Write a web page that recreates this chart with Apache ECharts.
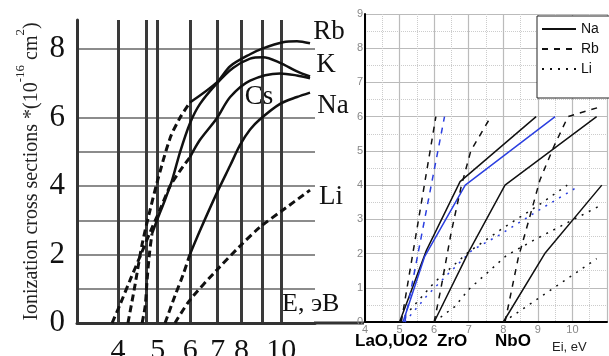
<!DOCTYPE html>
<html>
<head>
<meta charset="utf-8">
<script src="https://cdn.jsdelivr.net/npm/echarts@6/dist/echarts.min.js"></script>
<style>
html,body{margin:0;padding:0;background:#fff}
#chart{width:609px;height:356px}
</style>
</head>
<body>
<div id="chart"></div>
<script>
// ---- left panel: cross section vs E (log energy axis), [E, sigma]
var leftTicks = [4, 5, 6, 7, 8, 10];
var leftGridE = [4, 4.7, 5, 6, 7, 8, 9, 10];
var sigmaTicks = [0, 2, 4, 6, 8];
var sigmaGrid = [1, 2, 3, 4, 5, 6, 8];

var csDash = [[3.87,0],[4.05,0.55],[4.28,1.25],[4.53,1.95],[4.79,2.65],[5.06,3.3],[5.36,4.0],[5.67,4.45],[5.99,4.84]];
var csSolid = [[5.99,4.84],[6.34,5.35],[6.97,5.98],[7.51,6.6],[8.40,7.08],[9.94,7.29],[10.93,7.23],[11.76,7.15]];
var rbDash = [[4.23,0],[4.40,1.1],[4.58,2.3],[4.79,3.3],[4.98,4.1],[5.36,5.4],[5.67,6.0],[5.99,6.44]];
var rbSolid = [[5.99,6.44],[6.97,7.03],[7.51,7.5],[8.40,7.85],[9.03,8.02],[10.10,8.2],[10.93,8.23],[11.76,8.17]];
var kDash = [[4.58,0],[4.66,0.5],[4.71,1.25],[4.77,2.0],[4.84,2.6]];
var kSolid = [[4.84,2.6],[4.98,3.0],[5.21,3.6],[5.42,4.17],[5.67,5.0],[5.99,5.83],[6.34,6.4],[6.97,7.0],[7.63,7.45],[8.40,7.72],[9.03,7.76],[9.94,7.6],[10.93,7.35],[11.76,7.2]];
var naDash = [[5.21,0],[5.51,0.8],[5.76,1.4],[5.99,2.0]];
var naSolid = [[5.99,2.0],[6.34,2.7],[6.97,3.8],[7.51,4.6],[7.94,5.2],[8.40,5.65],[8.88,5.95],[9.94,6.4],[10.93,6.6],[11.76,6.73]];
var liDash = [[5.51,0],[5.99,0.67],[6.97,1.55],[7.94,2.25],[8.88,2.8],[10.10,3.3],[11.76,3.88]];

// ---- right panel: [Ei, value]
var rightXTicks = [4, 5, 6, 7, 8, 9, 10];
var naLaO = [[5.0,0],[5.78,2.1],[6.75,4.1],[8.95,6.0]];
var naUO2 = [[5.1,0],[5.72,1.9],[6.9,4.0],[9.5,6.0]];
var naZrO = [[6.0,0],[7.0,2.05],[8.05,4.0],[10.7,6.0]];
var naNbO = [[8.0,0],[9.2,2.0],[10.85,4.0]];
var rbLaO = [[5.05,0],[6.05,6.0]];
var rbUO2 = [[5.15,0],[6.3,6.0]];
var rbZrO = [[6.0,0],[6.2,1.0],[6.49,2.6],[6.78,3.95],[7.06,5.0],[7.64,6.0]];
var rbNbO = [[8.05,0],[8.43,1.86],[8.82,3.27],[9.06,4.15],[9.45,5.1],[9.87,6.0],[10.85,6.3]];
var liLaO = [[5.0,0],[6.0,1.15],[7.0,2.05],[8.0,2.75],[9.0,3.4],[9.85,4.0]];
var liUO2 = [[5.15,0],[5.82,0.8],[6.4,1.4],[7.1,2.1],[7.9,2.55],[9.0,3.25],[10.07,3.9]];
var liZrO = [[6.0,0],[6.6,0.45],[7.0,0.95],[8.1,1.95],[8.9,2.4],[10.8,3.4]];
var liNbO = [[8.0,0],[8.3,0.2],[10.7,1.85]];

var serif = '"Liberation Serif", "DejaVu Serif", serif';
var sans = '"Liberation Sans", Arial, sans-serif';
var BLACK = '#111', BLUE = '#2b3fe0';

function lg(pts) { return pts.map(function (p) { return [Math.log10(p[0]), p[1]]; }); }

function leftLine(name, pts, dashed) {
    return {
        name: name, type: 'line', xAxisIndex: 0, yAxisIndex: 0,
        data: lg(pts), smooth: 0.3, symbol: 'none', silent: true,
        lineStyle: { color: BLACK, width: dashed ? 3 : 2.5, type: dashed ? [7, 4] : 'solid' }
    };
}
function rightLine(name, pts, color, type) {
    return {
        name: name, type: 'line', xAxisIndex: 1, yAxisIndex: 1,
        data: pts, symbol: 'none', silent: true,
        itemStyle: { color: 'rgba(0,0,0,0)' },
        lineStyle: { color: color, width: 1.5, type: type }
    };
}
var DOT = [2, 6], DASH = [6, 6];

var myChart = echarts.init(document.getElementById('chart'));
myChart.setOption({
    animation: false,
    backgroundColor: '#fff',
    grid: [
        { left: 77, top: 20, width: 238, bottom: 33, outerBoundsMode: 'none', containLabel: false },
        { left: 365, top: 14, width: 242, bottom: 34, outerBoundsMode: 'none', containLabel: false }
    ],
    xAxis: [{
        gridIndex: 0, type: 'value',
        min: Math.log10(4) - 41 / 410, max: Math.log10(4) + 197 / 410,
        axisLine: { show: true, lineStyle: { color: '#333', width: 3 } },
        axisTick: { show: false, customValues: leftGridE.map(Math.log10) },
        axisLabel: {
            customValues: leftTicks.map(Math.log10), margin: 13,
            fontSize: 30, fontFamily: serif, color: BLACK,
            formatter: function (v) { return String(Math.round(Math.pow(10, v))); }
        },
        splitLine: { show: true, lineStyle: { color: '#3a3a3a', width: 3 } }
    }, {
        gridIndex: 1, type: 'value', min: 4, max: 11, interval: 1,
        axisLine: { show: true, lineStyle: { color: '#000', width: 2 } },
        axisTick: { show: false },
        axisLabel: { customValues: rightXTicks, margin: 2, fontSize: 11, color: '#888', fontFamily: sans },
        splitLine: { show: true, lineStyle: { color: '#bbb', width: 1.2 } },
        minorTick: { show: false, splitNumber: 2 },
        minorSplitLine: { show: true, lineStyle: { color: '#ccc', type: 'dotted' } }
    }],
    yAxis: [{
        gridIndex: 0, type: 'value', min: 0, max: 8.85,
        name: '{m|Ionization cross sections *(10}{s|-16}{m| cm}{s|2}{m|)}',
        nameLocation: 'middle', nameRotate: 90, nameGap: 35,
        nameTextStyle: {
            rich: {
                m: { fontSize: 20, fontFamily: serif, color: '#222', lineHeight: 28, verticalAlign: 'bottom' },
                s: { fontSize: 13, fontFamily: serif, color: '#222', verticalAlign: 'top' }
            }
        },
        axisLine: { show: true, lineStyle: { color: '#333', width: 3 } },
        axisTick: { show: false, customValues: sigmaGrid },
        axisLabel: { customValues: sigmaTicks, margin: 12, fontSize: 31, fontFamily: serif, color: BLACK },
        splitLine: { show: true, lineStyle: { color: '#8c8c8c', width: 2 } }
    }, {
        gridIndex: 1, type: 'value', min: 0, max: 9, interval: 1,
        axisLine: { show: true, lineStyle: { color: '#000', width: 2 } },
        axisTick: { show: false },
        axisLabel: { margin: 2, fontSize: 11, color: '#888', fontFamily: sans },
        splitLine: { show: true, lineStyle: { color: '#bbb', width: 1.2 } },
        minorTick: { show: false, splitNumber: 2 },
        minorSplitLine: { show: true, lineStyle: { color: '#ccc', type: 'dotted' } }
    }],
    legend: {
        data: ['Na', 'Rb', 'Li'], orient: 'vertical', left: 537, top: 16,
        itemWidth: 34, itemHeight: 14, itemGap: 6, padding: [6, 14, 22, 4],
        backgroundColor: '#fff', borderColor: '#222', borderWidth: 1, borderRadius: 0,
        selectedMode: false,
        itemStyle: { color: 'rgba(0,0,0,0)', borderWidth: 0 },
        textStyle: { fontSize: 14, color: BLACK, fontFamily: sans }
    },
    graphic: [
        { type: 'line', shape: { x1: 314, y1: 323, x2: 364, y2: 323 }, style: { stroke: '#333', lineWidth: 3 } },
        { type: 'text', x: 329, y: 32, style: { text: 'Rb', font: '27px ' + serif, fill: BLACK, textAlign: 'center', textVerticalAlign: 'middle' } },
        { type: 'text', x: 326, y: 65, style: { text: 'K', font: '27px ' + serif, fill: BLACK, textAlign: 'center', textVerticalAlign: 'middle' } },
        { type: 'text', x: 259, y: 97, style: { text: 'Cs', font: '27px ' + serif, fill: BLACK, textAlign: 'center', textVerticalAlign: 'middle' } },
        { type: 'text', x: 333, y: 106, style: { text: 'Na', font: '27px ' + serif, fill: BLACK, textAlign: 'center', textVerticalAlign: 'middle' } },
        { type: 'text', x: 331, y: 197, style: { text: 'Li', font: '27px ' + serif, fill: BLACK, textAlign: 'center', textVerticalAlign: 'middle' } },
        { type: 'text', x: 282, y: 304, style: { text: 'E, эВ', font: '26px ' + serif, fill: BLACK, textAlign: 'left', textVerticalAlign: 'middle' } },
        { type: 'text', x: 355, y: 341, style: { text: 'LaO,UO2', font: 'bold 17px ' + sans, fill: '#000', textAlign: 'left', textVerticalAlign: 'middle' } },
        { type: 'text', x: 437, y: 341, style: { text: 'ZrO', font: 'bold 17px ' + sans, fill: '#000', textAlign: 'left', textVerticalAlign: 'middle' } },
        { type: 'text', x: 495, y: 341, style: { text: 'NbO', font: 'bold 17px ' + sans, fill: '#000', textAlign: 'left', textVerticalAlign: 'middle' } },
        { type: 'text', x: 552, y: 347, style: { text: 'Ei, eV', font: '13px ' + sans, fill: '#222', textAlign: 'left', textVerticalAlign: 'middle' } }
    ],
    series: [
        // right panel first so legend picks black styles
        rightLine('Na', naLaO, BLACK, 'solid'),
        rightLine('Rb', rbLaO, BLACK, DASH),
        rightLine('Li', liLaO, BLACK, DOT),
        rightLine('Na', naUO2, BLUE, 'solid'),
        rightLine('Rb', rbUO2, BLUE, DASH),
        rightLine('Li', liUO2, BLUE, DOT),
        rightLine('Na', naZrO, BLACK, 'solid'),
        rightLine('Rb', rbZrO, BLACK, DASH),
        rightLine('Li', liZrO, BLACK, DOT),
        rightLine('Na', naNbO, BLACK, 'solid'),
        rightLine('Rb', rbNbO, BLACK, DASH),
        rightLine('Li', liNbO, BLACK, DOT),
        // left panel
        leftLine('Cs dashed', csDash, true),
        leftLine('Cs', csSolid, false),
        leftLine('Rb dashed', rbDash, true),
        leftLine('Rb left', rbSolid, false),
        leftLine('K dashed', kDash, true),
        leftLine('K', kSolid, false),
        leftLine('Na dashed', naDash, true),
        leftLine('Na left', naSolid, false),
        leftLine('Li left', liDash, true)
    ]
});
</script>
</body>
</html>
